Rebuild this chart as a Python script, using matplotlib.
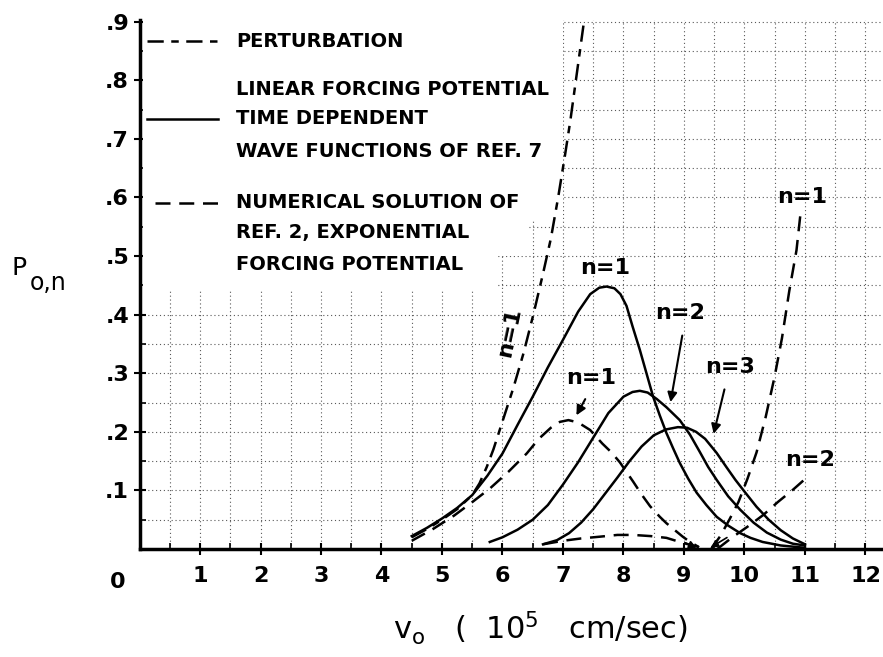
import matplotlib
matplotlib.use("Agg")
import matplotlib.pyplot as plt
from matplotlib import font_manager
from matplotlib.patches import Polygon

names = {f.name for f in font_manager.fontManager.ttflist}
narrow = 'Liberation Sans Narrow' if 'Liberation Sans Narrow' in names else 'DejaVu Sans'
plt.rcParams['font.family'] = [narrow, 'DejaVu Sans']
plt.rcParams['mathtext.fontset'] = 'dejavusans'

# perturbation, n=1 (dash-dot)
pert_x = [4.5, 4.75, 5.0, 5.25, 5.5, 5.62, 5.74, 5.85, 5.96, 6.07, 6.18, 6.35, 6.51, 6.67,
          6.8, 6.92, 7.03, 7.12, 7.2, 7.28, 7.36]
pert_y = [0.02, 0.034, 0.05, 0.068, 0.092, 0.112, 0.14, 0.17, 0.205, 0.24, 0.275, 0.335,
          0.40, 0.47, 0.53, 0.60, 0.67, 0.73, 0.79, 0.85, 0.91]

# linear forcing potential, time dependent wave functions (solid)
lin1_x = [4.5, 4.75, 5.0, 5.25, 5.5, 5.75, 6.0, 6.25, 6.5, 6.75, 7.0, 7.25, 7.45, 7.6, 7.72,
          7.85, 7.95, 8.05, 8.15, 8.27, 8.38, 8.49, 8.6, 8.71, 8.82, 8.93, 9.07, 9.21, 9.37,
          9.54, 9.73, 9.93, 10.1, 10.3, 10.6, 11.0]
lin1_y = [0.022, 0.036, 0.052, 0.07, 0.092, 0.125, 0.163, 0.212, 0.26, 0.31, 0.357, 0.405,
          0.435, 0.446, 0.448, 0.445, 0.435, 0.415, 0.38, 0.34, 0.30, 0.26, 0.228, 0.198,
          0.172, 0.147, 0.12, 0.096, 0.075, 0.055, 0.04, 0.027, 0.019, 0.012, 0.006, 0.002]
lin2_x = [5.79, 6.0, 6.25, 6.5, 6.75, 7.0, 7.25, 7.5, 7.75, 8.0, 8.15, 8.27, 8.4, 8.55, 8.71,
          8.93, 9.1, 9.26, 9.4, 9.54, 9.73, 9.93, 10.15, 10.37, 10.6, 10.8, 11.0]
lin2_y = [0.012, 0.02, 0.033, 0.05, 0.075, 0.11, 0.148, 0.19, 0.232, 0.26, 0.268, 0.27,
          0.267, 0.256, 0.242, 0.22, 0.195, 0.166, 0.14, 0.118, 0.09, 0.067, 0.045, 0.028,
          0.016, 0.009, 0.006]
lin3_x = [6.67, 6.9, 7.1, 7.3, 7.5, 7.7, 7.9, 8.1, 8.3, 8.5, 8.7, 8.9, 9.05, 9.2, 9.35, 9.54,
          9.7, 9.85, 10.0, 10.2, 10.4, 10.6, 10.8, 11.0]
lin3_y = [0.008, 0.015, 0.027, 0.045, 0.068, 0.095, 0.122, 0.15, 0.175, 0.194, 0.204, 0.208,
          0.207, 0.2, 0.188, 0.164, 0.14, 0.118, 0.098, 0.072, 0.05, 0.032, 0.018, 0.008]

# numerical solution of ref. 2 (dashed)
num1_x = [4.5, 4.85, 5.2, 5.5, 5.8, 6.1, 6.4, 6.6, 6.8, 6.95, 7.09, 7.25, 7.45, 7.65, 7.8,
          7.94, 8.16, 8.3, 8.44, 8.6, 8.71, 8.85, 8.98, 9.1, 9.25]
num1_y = [0.014, 0.034, 0.057, 0.08, 0.104, 0.132, 0.163, 0.188, 0.207, 0.217, 0.22, 0.216,
          0.203, 0.18, 0.165, 0.148, 0.115, 0.093, 0.073, 0.055, 0.044, 0.032, 0.021, 0.012,
          0.003]
num2_x = [6.67, 7.0, 7.3, 7.61, 7.9, 8.16, 8.45, 8.71, 8.9, 9.1, 9.3]
num2_y = [0.008, 0.014, 0.018, 0.021, 0.024, 0.024, 0.022, 0.019, 0.013, 0.007, 0.002]
num1r_x = [9.45, 9.6, 9.75, 9.9, 10.05, 10.2, 10.35, 10.5, 10.62, 10.74, 10.86, 10.93]
num1r_y = [0.0, 0.022, 0.05, 0.08, 0.12, 0.165, 0.225, 0.295, 0.36, 0.44, 0.51, 0.576]
num2r_x = [9.55, 9.8, 10.05, 10.31, 10.55, 10.8, 11.03]
num2r_y = [0.0, 0.02, 0.038, 0.058, 0.08, 0.101, 0.122]

legend_pert = ["PERTURBATION"]
legend_lin = ["LINEAR FORCING POTENTIAL", "TIME DEPENDENT", "WAVE FUNCTIONS OF REF. 7"]
legend_num = ["NUMERICAL SOLUTION OF", "REF. 2, EXPONENTIAL", "FORCING POTENTIAL"]

xticks = list(range(1, 13))
yticks = [0.1, 0.2, 0.3, 0.4, 0.5, 0.6, 0.7, 0.8, 0.9]
ytick_labels = [".1", ".2", ".3", ".4", ".5", ".6", ".7", ".8", ".9"]

fig = plt.figure(figsize=(8.83, 6.57), dpi=100)
ax = fig.add_axes([0.158, 0.1644, 0.842, 0.8052])
ax.set_xlim(0, 12.29)
ax.set_ylim(0, 0.903)

DASHDOT = (0, (6.5, 3, 3, 3))
DASH = (0, (6, 3.5))
lw = 1.8

ax.plot(pert_x, pert_y, color='k', lw=lw, ls=DASHDOT, zorder=3)
for xs, ys in [(lin1_x, lin1_y), (lin2_x, lin2_y), (lin3_x, lin3_y)]:
    ax.plot(xs, ys, color='k', lw=lw, zorder=3)
for xs, ys in [(num1_x, num1_y), (num2_x, num2_y), (num1r_x, num1r_y), (num2r_x, num2r_y)]:
    ax.plot(xs, ys, color='k', lw=lw, ls=DASH, zorder=3)

# little arrowheads where the dashed curves meet the axis
hk = dict(arrowstyle='-|>', color='k', lw=1.2, mutation_scale=11)
ax.annotate("", xy=(num1_x[-1], 0.0), xytext=(num1_x[-3], num1_y[-3] * 0.6), arrowprops=hk)
ax.annotate("", xy=(num1r_x[0] - 0.05, 0.0), xytext=(num1r_x[2], num1r_y[1]), arrowprops=hk)

# axes and ticks
for s in ['top', 'right']:
    ax.spines[s].set_visible(False)
ax.spines['left'].set_linewidth(2.5)
ax.spines['bottom'].set_linewidth(2.5)
ax.set_xticks(xticks)
ax.set_xticklabels([str(t) for t in xticks])
ax.set_xticks([t + 0.5 for t in range(0, 12)], minor=True)
ax.set_yticks(yticks)
ax.set_yticklabels(ytick_labels)
ax.set_yticks([0.05 + 0.1 * i for i in range(9)], minor=True)
ax.tick_params(axis='both', which='major', direction='inout', length=8, width=1.5,
               labelsize=16)
ax.tick_params(axis='both', which='minor', direction='in', length=4, width=1.2)
ax.tick_params(axis='x', pad=8)
for lab in ax.get_xticklabels() + ax.get_yticklabels():
    lab.set_fontweight('bold')
ax.text(-0.36, -0.04, "0", fontsize=16, fontweight='bold', ha='center', va='top')

ax.set_axisbelow(True)
ax.grid(True, which='both', color='0.35', lw=0.8, ls=(0, (1, 2.5)))

# blank area behind the legend
ax.add_patch(Polygon([(0.05, 0.44), (5.9, 0.44), (5.9, 0.50), (6.4, 0.50), (6.4, 0.56),
                      (7.0, 0.56), (7.0, 0.91), (0.05, 0.91)],
                     closed=True, facecolor='white', edgecolor='none', zorder=1))

# legend
kw = dict(fontsize=14, fontweight='bold', va='center', ha='left', zorder=4)
ax.plot([0.12, 1.30], [0.867, 0.867], color='k', lw=lw, ls=DASHDOT)
ax.text(1.6, 0.867, legend_pert[0], **kw)
ax.plot([0.12, 1.30], [0.734, 0.734], color='k', lw=lw)
for s, yy in zip(legend_lin, [0.784, 0.734, 0.678]):
    ax.text(1.6, yy, s, **kw)
ax.plot([0.25, 1.30], [0.591, 0.591], color='k', lw=lw, ls=DASH)
for s, yy in zip(legend_num, [0.591, 0.540, 0.485]):
    ax.text(1.6, yy, s, **kw)

# curve labels
lk = dict(fontsize=16, fontweight='bold', ha='center', va='center', zorder=4)
ax.text(6.12, 0.37, "n=1", rotation=78, **lk)
ax.text(7.69, 0.48, "n=1", **lk)
ax.text(8.93, 0.403, "n=2", **lk)
ax.text(9.76, 0.311, "n=3", **lk)
ax.text(7.47, 0.292, "n=1", **lk)
ax.text(11.08, 0.152, "n=2", **lk)
ax.text(10.95, 0.60, "n=1", **lk)
ap = dict(arrowstyle='-|>', color='k', lw=1.5, mutation_scale=14)
ax.annotate("", xy=(8.77, 0.246), xytext=(8.98, 0.369), arrowprops=ap)
ax.annotate("", xy=(9.48, 0.192), xytext=(9.68, 0.277), arrowprops=ap)
ax.annotate("", xy=(7.2, 0.224), xytext=(7.39, 0.26), arrowprops=ap)

# axis titles
fig.text(19 / 883, 1 - 268 / 657, "P", fontsize=18, ha='center', va='center')
fig.text(48 / 883, 1 - 283 / 657, "o,n", fontsize=17, ha='center', va='center')
fig.text(540 / 883, 1 - 628 / 657, r"v$_{\mathrm{o}}$   (  10$^{5}$   cm/sec)", fontsize=22,
         ha='center', va='center')

fig.savefig("out.png", dpi=100)
